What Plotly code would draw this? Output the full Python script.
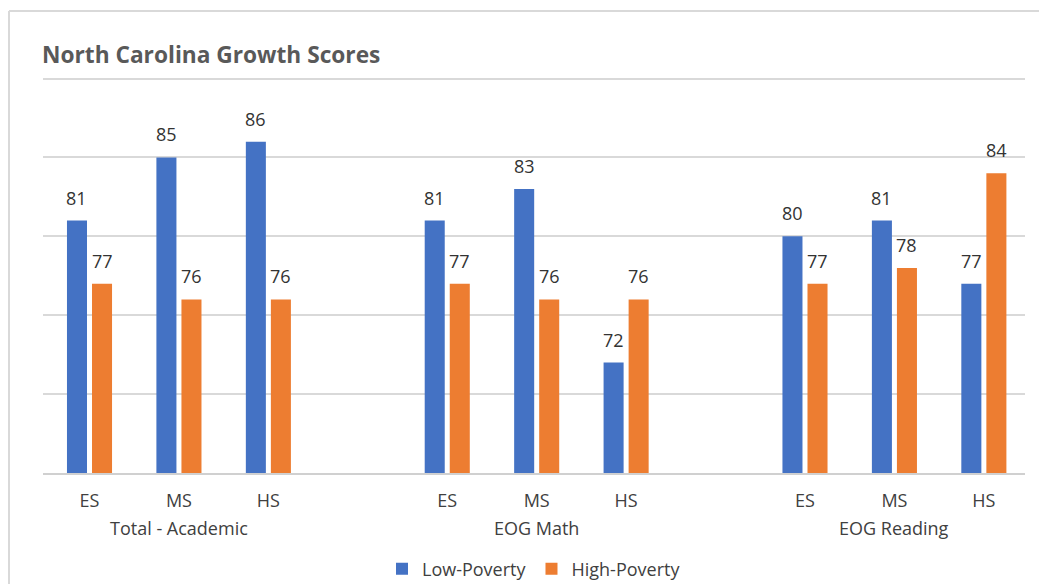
import plotly.graph_objects as go

groups = ["Total - Academic", "EOG Math", "EOG Reading"]
levels = ["ES", "MS", "HS"]
low_poverty = [81, 85, 86, 81, 83, 72, 80, 81, 77]
high_poverty = [77, 76, 76, 77, 76, 76, 77, 78, 84]
series_names = ["Low-Poverty", "High-Poverty"]
colors = ["#4472C4", "#ED7D31"]
Y_MIN, Y_MAX = 65, 90

# category slot positions: 3 per group with one empty slot between groups
positions = []
for g in range(len(groups)):
    for j in range(len(levels)):
        positions.append(g * 4 + j)
tick_text = levels * len(groups)
group_centers = [g * 4 + 1 for g in range(len(groups))]

W = 0.224
offsets = [-0.252, 0.028]
FONT = "Open Sans, sans-serif"
TXT = "#404040"

fig = go.Figure()
for name, vals, col, off in zip(series_names, [low_poverty, high_poverty], colors, offsets):
    fig.add_trace(go.Bar(
        x=positions, y=[v - Y_MIN for v in vals], base=Y_MIN, name=name,
        marker=dict(color=col, line=dict(width=0)),
        width=W, offset=off, hoverinfo="skip",
    ))

annotations = []
for vals, off in zip([low_poverty, high_poverty], offsets):
    for p, v in zip(positions, vals):
        annotations.append(dict(
            x=p + off + W / 2, y=v, xref="x", yref="y", text=str(v),
            showarrow=False, yshift=23, font=dict(size=18, color="#333333", family=FONT),
        ))
for gc, gname in zip(group_centers, groups):
    annotations.append(dict(
        x=gc, y=-0.1389, xref="x", yref="paper", text=gname, showarrow=False,
        yanchor="middle", font=dict(size=18, color=TXT, family=FONT),
    ))
annotations.append(dict(
    x=-0.003, y=1.0556, xref="paper", yref="paper",
    text="<b>North Carolina Growth Scores</b>", showarrow=False,
    xanchor="left", yanchor="middle", font=dict(size=22.7, color="#595959", family=FONT),
))

fig.update_layout(
    width=1047, height=584,
    margin=dict(l=35, r=30, t=69, b=119, autoexpand=False),
    paper_bgcolor="white", plot_bgcolor="white",
    showlegend=True,
    legend=dict(orientation="h", x=0.5, xanchor="center", y=-0.2424, yanchor="middle",
                font=dict(size=18, color=TXT, family=FONT), itemwidth=30),
    annotations=annotations,
    xaxis=dict(range=[-0.52, 10.46], tickvals=positions, ticktext=tick_text,
               showgrid=False, zeroline=False, showline=True, linecolor="#D0D0D0", linewidth=1.5,
               ticks="", ticklabelstandoff=11,
               tickfont=dict(size=18, color=TXT, family=FONT)),
    yaxis=dict(range=[Y_MIN, Y_MAX + 0.1], dtick=5, tick0=Y_MIN, showticklabels=False,
               gridcolor="#D9D9D9", gridwidth=1.5, zeroline=False, showline=False),
    shapes=[
        dict(type="line", xref="paper", yref="paper", x0=-0.0346, x1=1.1,
             y0=1.1667, y1=1.1667, line=dict(color="#D9D9D9", width=2)),
        dict(type="line", xref="paper", yref="paper", x0=-0.0346, x1=-0.0346,
             y0=1.1667, y1=-0.4, line=dict(color="#D9D9D9", width=2)),
    ],
)
fig.write_html("out.html")
